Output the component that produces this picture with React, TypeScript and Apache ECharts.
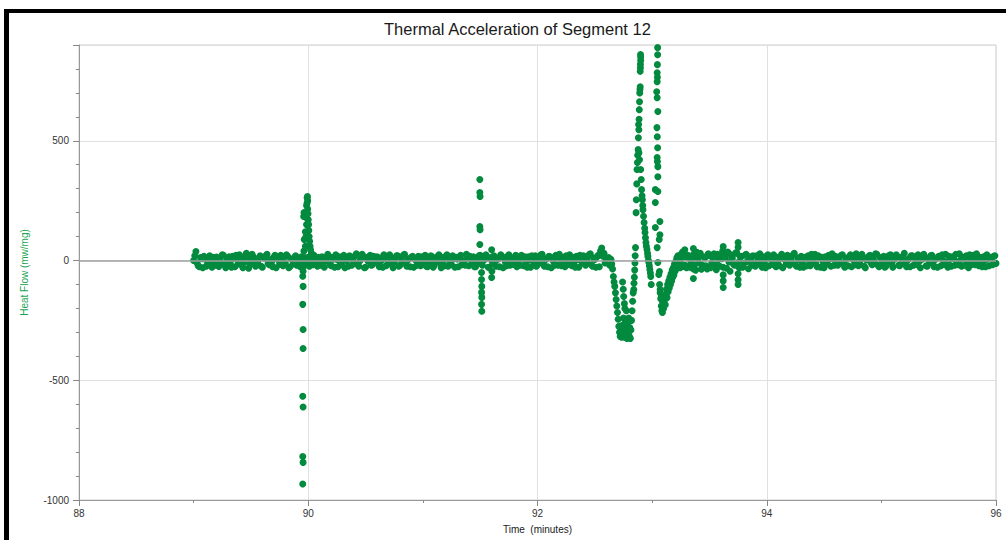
import React, { useEffect, useRef } from "react";
import * as echarts from "echarts";

const chartTitle = "Thermal Acceleration of Segment 12";
const xAxisName = "Time  (minutes)";
const yAxisName = "Heat Flow (mw/mg)";

const xMin = 88;
const xMax = 96;
const yMin = -1000;
const yMax = 900;

// Instrument sampling interval (minutes) for each baseline channel
const sampleStep = 0.02;

// Baseline channel 1, record A: 89.00 -> 92.60
const baseAStart = 89.0;
const baseA = [
  0, 38, -22, 12, -30, 5, -18, 20, -28, 2,
  15, -25, -6, 22, -30, 4, -15, 18, -26, 8,
  24, -20, -8, 30, -32, 6, 16, -24, -4, 20,
  -28, 10, 26, -18, -6, 14, -30, 2, 22, -22,
  -10, 18, -26, 4, 12, -20, 0, 16, -24, -8,
  14, 20, -18, 8, -24, 4, 16, -28, -2, 18,
  -22, 6, 24, -26, -8, 14, -30, 2, 20, -20,
  -6, 28, -24, 10, 18, -28, -2, 22, -18, 6,
  16, -26, 0, 24, -22, -8, 12, -30, 4, 20,
  -20, -4, 26, -24, 8, 14, -28, 0, 18, -22,
  6, 22, -26, -6, 16, -20, 10, 24, -30, 2,
  18, -24, -8, 20, -28, 6, 14, -18, 0, 26,
  -22, 8, 16, -26, -4, 22, -20, 4, 12, -28,
  0, 20, -24, 10, 24, -30, -6, 18, -20, 2,
  14, -26, 6, 22, -22, -10, 16, -28, 4, 20,
  -18, 0, 26, -24, 8, 18, -30, -4, 22, -20,
  6, 14, -26, 0, 24, -22, -8, 18, -28, 10,
  20, -20, -6, 28, -24, 4, 16, -26, 52, 30,
  8,
];

// Baseline channel 2, record A: 89.01 -> 92.59
const baseA2Start = 89.01;
const baseA2 = [
  20, -10, -26, 8, 18, -24, 6, -12, 14, -20,
  -4, 10, 24, -18, 0, 16, -28, 8, 22, -14,
  4, -30, 18, 12, -16, 26, -6, -20, 10, -24,
  14, 20, -12, 4, -26, 22, 8, -16, -2, 16,
  24, -30, 6, -14, 20, 8, -26, 2, 12, -18,
  -24, 2, 22, -10, 14, -20, -6, 10, 26, -16,
  12, -28, 4, 16, -18, 22, 0, -24, 8, 14,
  20, -14, -2, 26, -30, 12, 6, -20, 18, -8,
  -4, 10, -28, 16, 6, 24, -18, -6, 20, -24,
  12, 22, -12, 2, -26, 18, 8, -20, -4, 16,
  -14, -24, 10, 20, -28, 4, 18, -10, 12, -22,
  24, 0, -18, 8, 14, -26, 22, -4, -20, 10,
  18, -10, -26, 6, 20, -14, 4, 24, -28, 12,
  -12, 14, 4, -26, 18, 8, -22, 24, -2, -16,
  22, -4, -20, 10, 16, -28, 2, 20, -12, -24,
  10, 24, -14, 4, -26, 16, 8, -20, 12, 26,
  -22, -6, 20, -16, 8, 14, -28, 4, 22, -10,
  -2, 12, 24, -18, 10, -28, 22, 40, 18, -10,
];

// Baseline channel 1, record B: 93.30 -> 96.00
const baseBStart = 93.3;
const baseB = [
  -30, 10, -12, 25, -40, 8, 30, -20, 12, -35,
  20, -10, 28, -38, 4, 22, -28, 14, 35, -45,
  10, -20, 30, -30, 18, -12, 26, -34, 8, 20,
  -24, 12, 28, -28, -4, 18, -22, 6, 24, -26,
  0, 16, -30, 10, 22, -20, -6, 30, -24, 4,
  18, -28, 8, 20, -22, -2, 26, -26, 12, 14,
  -30, 2, 22, -24, 6, 18, -20, -8, 24, -28,
  10, 16, -26, 0, 28, -22, 4, 14, -30, 8,
  22, -18, -6, 26, -26, 6, 18, -24, 0, 24,
  -28, 10, 16, -22, -4, 30, -26, 8, 20, -20,
  2, 24, -30, 6, 14, -24, -8, 22, -26, 10,
  18, -22, 0, 26, -28, 4, 16, -20, -6, 28,
  -24, 8, 20, -30, 2, 22, -18, 6, 14, -26,
  0, 24, -22, 10, 18,
  -12,
];

// Baseline channel 2, record B: 93.31 -> 95.99
const baseB2Start = 93.31;
const baseB2 = [
  22, -28, 6, -18, 34, -10, -36, 16, -22, 28,
  -30, 12, -18, 26, -24, 8, 20, -32, -6, 24,
  -16, 32, -8, 14, -28, 22, -4, 16, -20, -10,
  20, -14, 2, 16, -30, 24, 8, -16, -6, 14,
  -22, 26, 6, -14, -4, 12, 24, -18, 10, -28,
  -8, 14, -22, 2, 26, 8, -16, 20, -28, -4,
  16, -14, 8, 28, -20, -6, 12, 22, -16, 4,
  -22, 24, 6, -18, 14, -8, 26, -24, 2, 18,
  -10, 6, 28, -20, 12, -6, -28, 16, 22, -14,
  4, 24, -20, 14, 8, -16, 2, -26, 20, 12,
  -18, -4, 16, 26, -22, 8, 20, -12, 4, -28,
  12, 24, -16, -6, 18, -24, 10, 26, -18, 2,
  14, -20, -4, 24, -16, 10, 28, -22, -8, 16,
  -26, 6, 14, -18, 20,
];

// Event near 90 min: [time, heat flow]
const spike90: [number, number][] = [
  [89.952, -20], [89.955, -45], [89.952, -66], [89.955, -108], [89.952, -183],
  [89.955, -288], [89.955, -367], [89.952, -567], [89.955, -612], [89.952, -818],
  [89.955, -843], [89.952, -933],
  [89.962, 40], [89.965, 88], [89.96, 184], [89.963, 200],
  [89.975, 60], [89.98, 100], [89.985, 150],
  [89.975, 120], [89.98, 180], [89.985, 230], [89.99, 262], [89.993, 267],
  [89.995, 250], [89.99, 240], [89.995, 215], [89.998, 195], [90.0, 170],
  [90.003, 150], [90.005, 125], [90.008, 100], [90.012, 80], [90.016, 60],
  [90.02, 45], [90.028, 30], [90.035, 15],
];

// Event near 91.5 min
const spike915: [number, number][] = [
  [91.497, 338], [91.497, 284], [91.499, 267], [91.497, 142], [91.499, 129], [91.497, 67],
  [91.512, -50], [91.512, -79], [91.514, -108], [91.512, -133], [91.514, -154],
  [91.512, -183], [91.514, -212],
  [91.6, 45], [91.602, -45], [91.6, -71],
];

// Main event 92.6 -> 93.3 min
const mainEvent: [number, number][] = [
  [92.62, 12], [92.63, -20], [92.64, 5],
  [92.648, -15], [92.655, -35], [92.662, -67], [92.668, -90], [92.674, -108],
  [92.68, -135], [92.686, -163], [92.692, -190], [92.698, -217], [92.704, -245],
  [92.71, -275], [92.716, -300], [92.722, -317],
  [92.728, -295], [92.734, -320], [92.74, -270], [92.744, -305], [92.75, -240],
  [92.755, -285], [92.76, -320], [92.765, -260], [92.77, -300], [92.775, -210],
  [92.78, -325], [92.785, -270], [92.79, -305], [92.795, -240], [92.8, -315],
  [92.805, -280], [92.81, -325], [92.815, -290], [92.82, -250], [92.825, -210],
  [92.83, -170], [92.835, -135],
  [92.742, -90], [92.748, -120], [92.752, -150], [92.758, -180], [92.762, -200],
  [92.84, -121], [92.842, -95], [92.845, -70], [92.848, -40], [92.85, -10],
  [92.852, 20], [92.855, 54],
  [92.86, 200], [92.862, 254], [92.866, 320], [92.868, 380], [92.872, 409],
  [92.874, 440], [92.878, 463], [92.88, 513], [92.884, 546], [92.882, 568],
  [92.886, 590], [92.888, 630], [92.89, 663], [92.892, 700], [92.894, 715],
  [92.896, 726], [92.896, 790], [92.898, 805], [92.898, 820], [92.9, 835],
  [92.9, 850], [92.899, 860],
  [92.885, 450], [92.89, 421], [92.9, 380], [92.905, 338], [92.908, 296],
  [92.912, 270], [92.915, 254], [92.918, 230], [92.92, 212], [92.925, 185],
  [92.93, 159], [92.935, 135], [92.938, 117], [92.942, 95], [92.946, 75],
  [92.95, 60], [92.955, 46], [92.96, 30], [92.963, 17], [92.968, 0],
  [92.972, -8], [92.976, -22], [92.98, -37], [92.985, -52], [92.988, -67],
  [92.992, -100],
  [93.048, 889], [93.048, 859], [93.046, 818], [93.044, 784], [93.046, 765],
  [93.044, 747], [93.04, 705], [93.044, 680], [93.05, 622], [93.042, 555],
  [93.045, 517], [93.048, 471], [93.044, 430], [93.046, 413], [93.05, 392],
  [93.05, 350], [93.028, 296], [93.05, 288], [93.028, 242], [93.068, 163],
  [93.028, 138], [93.068, 108], [93.062, 88], [93.044, 54], [93.05, -8],
  [93.064, -46], [93.058, -58], [93.07, -121],
  [93.065, -100], [93.07, -135], [93.075, -160], [93.08, -190], [93.085, -210],
  [93.09, -217], [93.095, -195], [93.09, -170], [93.08, -150],
  [93.1, -200], [93.105, -170], [93.11, -150], [93.115, -185], [93.12, -140],
  [93.125, -120], [93.13, -155], [93.135, -100], [93.14, -130], [93.145, -85],
  [93.15, -115], [93.155, -70], [93.16, -100], [93.165, -55], [93.17, -85],
  [93.175, -40], [93.18, -70], [93.185, -30], [93.19, -60], [93.195, -15],
  [93.2, -45], [93.205, -5], [93.21, -35], [93.215, 10], [93.22, -28],
  [93.225, 20], [93.23, -20], [93.24, 5], [93.245, -30], [93.25, 25],
  [93.26, -15], [93.265, 35], [93.27, -25], [93.28, 15], [93.285, 45], [93.29, -20],
];

// Small excursions after the main event
const afterSpikes: [number, number][] = [
  [93.36, 50], [93.36, -35], [93.36, -75],
  [93.615, 40], [93.62, 58], [93.62, -60], [93.62, -85], [93.62, -113],
  [93.75, 75], [93.75, 55], [93.75, -55], [93.75, -80], [93.75, -100],
];

const dotColor = "#028a3e";
const font = "Liberation Sans, Arial, Helvetica, sans-serif";

export default function App() {
  const ref = useRef<HTMLDivElement>(null);

  useEffect(() => {
    const chart = echarts.init(ref.current!, null, { renderer: "svg" });
    const points: [number, number][] = [];
    const addRecord = (start: number, vals: number[]) =>
      vals.forEach((v, i) => points.push([+(start + i * sampleStep).toFixed(3), v]));
    addRecord(baseAStart, baseA);
    addRecord(baseA2Start, baseA2);
    addRecord(baseBStart, baseB);
    addRecord(baseB2Start, baseB2);
    points.push(...spike90, ...spike915, ...mainEvent, ...afterSpikes);

    chart.setOption({
      animation: false,
      backgroundColor: "#fff",
      title: {
        text: chartTitle,
        left: 379,
        top: 15,
        textStyle: { fontSize: 16.5, fontWeight: "normal", color: "#1a1a1a", fontFamily: font },
      },
      grid: { left: 79, right: 10, top: 45, bottom: 40, show: true, borderColor: "#cccccc", borderWidth: 1 },
      graphic: [
        { type: "rect", shape: { x: 4, y: 9, width: 1002, height: 4 }, style: { fill: "#000" }, z: 100 },
        { type: "rect", shape: { x: 4, y: 9, width: 5, height: 531 }, style: { fill: "#000" }, z: 100 },
      ],
      xAxis: [
        {
          type: "value", min: xMin, max: xMax, interval: 1, position: "bottom",
          axisLine: { show: true, onZero: false, lineStyle: { color: "#999" } },
          axisTick: { show: true, length: 3, lineStyle: { color: "#888" } },
          axisLabel: { show: false },
          splitLine: { show: false },
        },
        {
          type: "value", min: xMin, max: xMax, interval: 2, position: "bottom",
          axisLine: { show: false, onZero: false },
          axisTick: { show: true, length: 6, lineStyle: { color: "#888" } },
          axisLabel: { show: true, fontSize: 10, color: "#333", margin: 8, fontFamily: font },
          splitLine: { show: true, lineStyle: { color: "#e0e0e0" } },
          name: xAxisName, nameLocation: "middle", nameGap: 24,
          nameTextStyle: { fontSize: 10, color: "#222", fontFamily: font },
        },
      ],
      yAxis: [
        {
          type: "value", min: yMin, max: yMax, interval: 100, position: "left",
          axisLine: { show: true, onZero: false, lineStyle: { color: "#999" } },
          axisTick: { show: true, length: 3, lineStyle: { color: "#888" } },
          axisLabel: { show: false },
          splitLine: { show: false },
        },
        {
          type: "value", min: yMin, max: yMax, interval: 500, position: "left",
          axisLine: { show: false, onZero: false },
          axisTick: { show: true, length: 6, lineStyle: { color: "#888" } },
          axisLabel: {
            show: true, fontSize: 10, color: "#333", margin: 10, fontFamily: font,
            formatter: (v: number) => (v % 500 === 0 ? String(v) : ""),
          },
          splitLine: { show: true, lineStyle: { color: "#e0e0e0" } },
          name: yAxisName, nameLocation: "middle", nameGap: 50,
          nameTextStyle: { fontSize: 10, color: "#22a455", fontFamily: font },
        },
      ],
      series: [
        {
          type: "line",
          data: [],
          z: 1,
          silent: true,
          markLine: {
            silent: true,
            symbol: "none",
            label: { show: false },
            lineStyle: { color: "#a0a0a0", width: 1.5, type: "solid" },
            data: [{ yAxis: 0 }],
          },
        },
        {
          type: "scatter",
          xAxisIndex: 0,
          yAxisIndex: 0,
          z: 3,
          symbolSize: 7,
          itemStyle: { color: dotColor, opacity: 1 },
          data: points,
        },
      ],
    });
    return () => chart.dispose();
  }, []);

  return (
    <div style={{ position: "absolute", left: 0, top: 0, width: 1006, height: 540, background: "#fff" }}>
      <div ref={ref} style={{ width: 1006, height: 540 }} />
    </div>
  );
}
